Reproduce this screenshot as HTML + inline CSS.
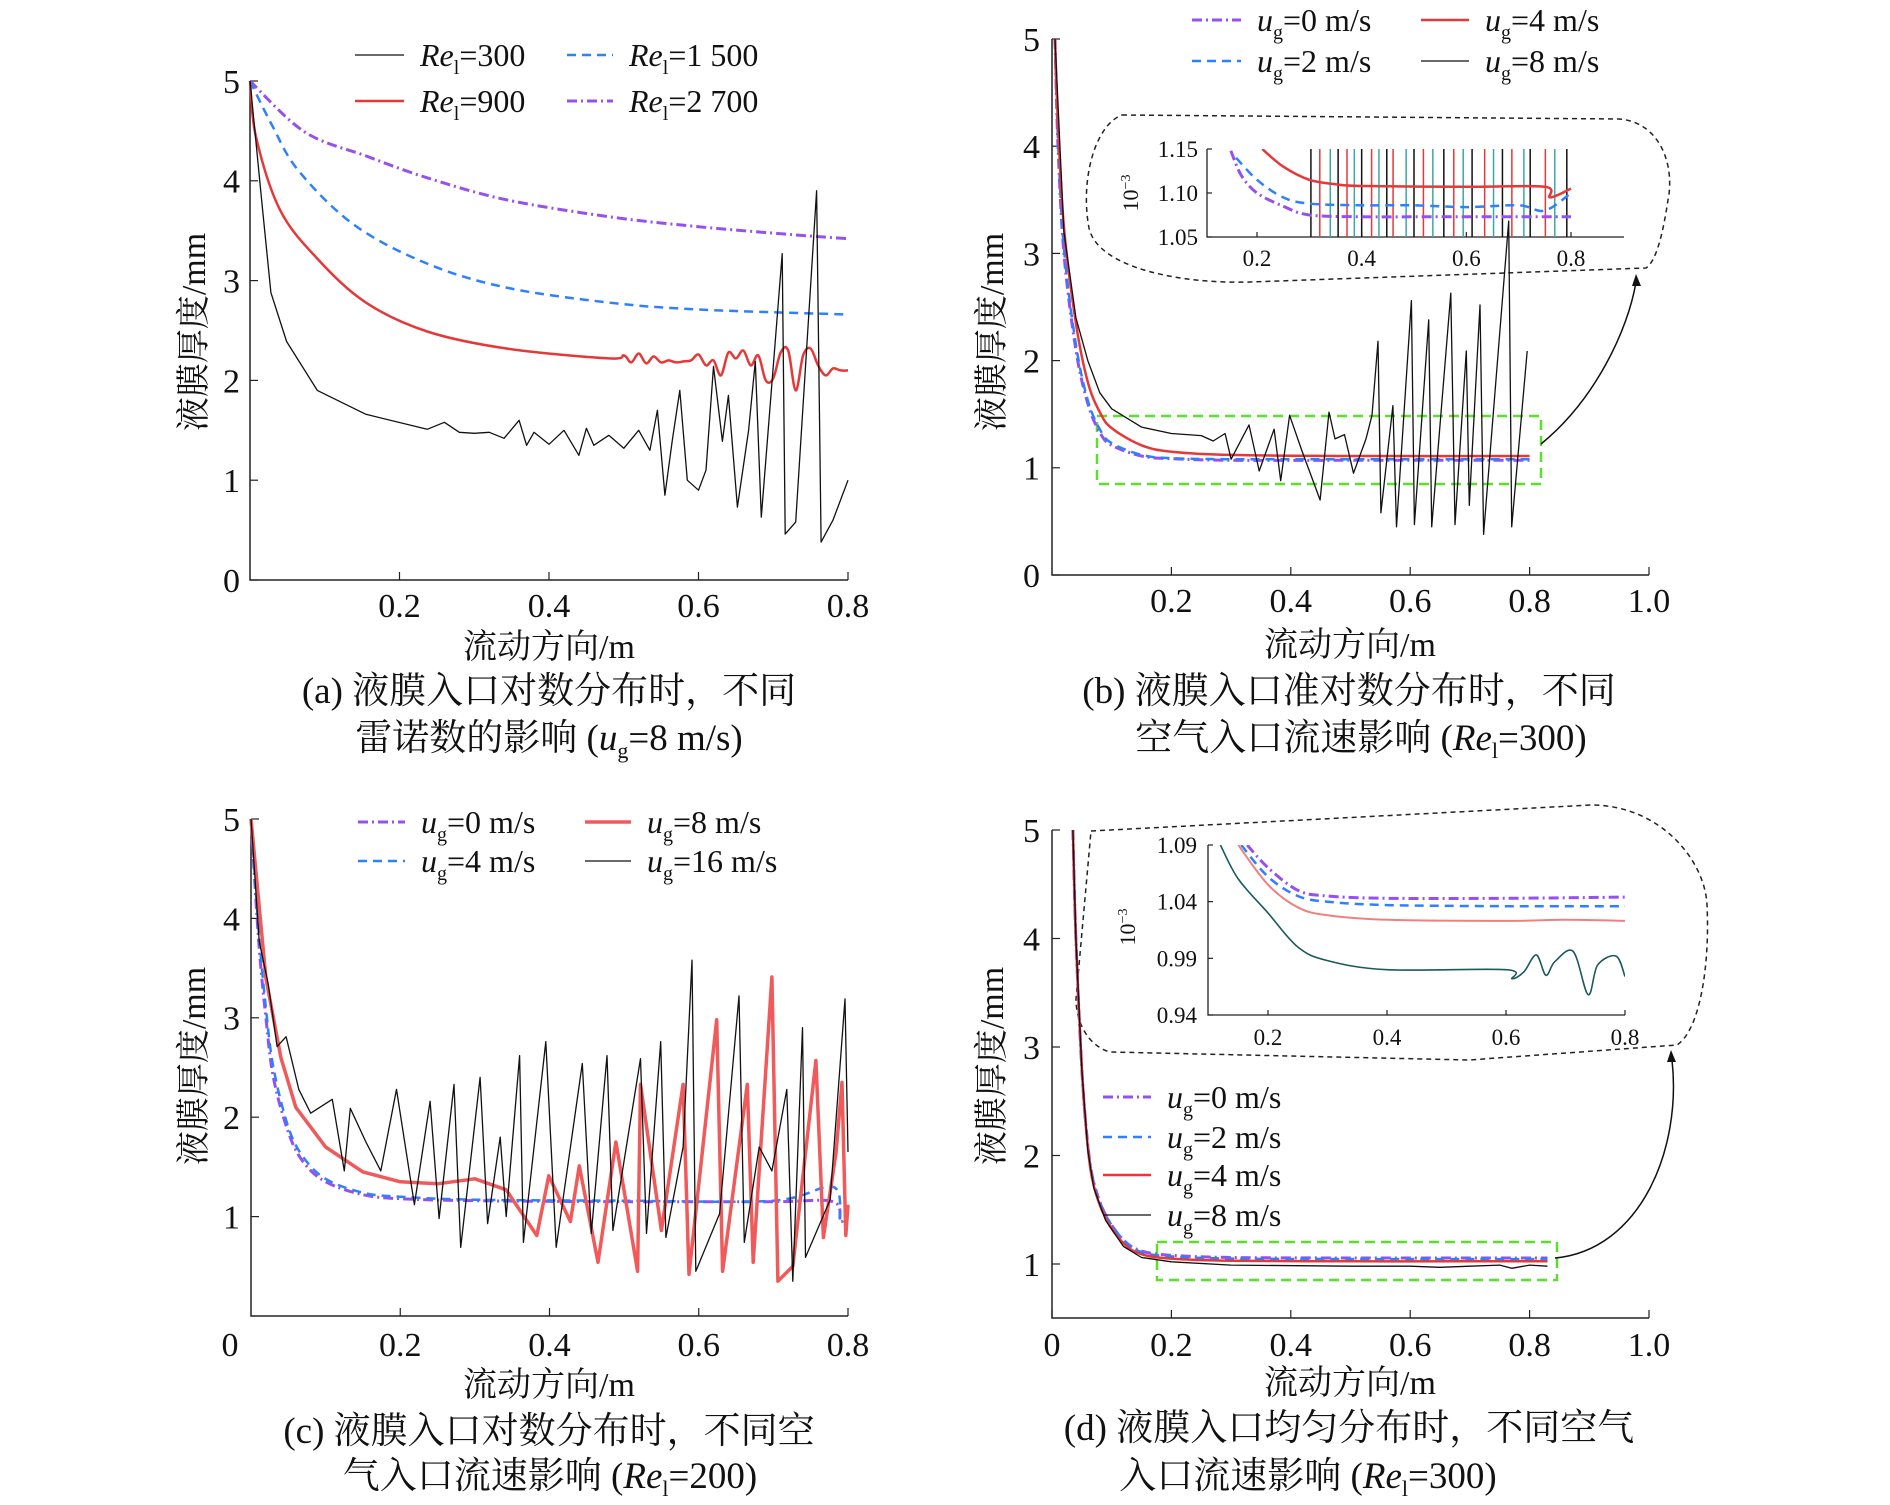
<!DOCTYPE html>
<html><head><meta charset="utf-8"><style>
html,body{margin:0;padding:0;background:#fff}
svg{display:block}
text{font-family:"Liberation Serif","Noto Serif CJK SC",serif;fill:#111}
</style></head><body>
<svg id="fig" width="1890" height="1505" viewBox="0 0 1890 1505" xmlns="http://www.w3.org/2000/svg">
<defs>
<clipPath id="clipBi"><rect x="1207" y="149" width="417" height="88"/></clipPath>
<clipPath id="clipDi"><rect x="1208" y="845" width="417" height="170"/></clipPath>
</defs>
<g id="root"></g>
</svg>
<script>
// ---------- Panel (a) data ----------
const a_x_2700=[0,0.073,0.155,0.237,0.343,0.48,0.6,0.726,0.8];
const a_y_2700=[5.0,4.49,4.25,4.03,3.81,3.64,3.54,3.46,3.42];
const a_x_1500=[0,0.03,0.065,0.139,0.237,0.343,0.48,0.6,0.8];
const a_y_1500=[5,4.55,4.10,3.56,3.17,2.93,2.78,2.71,2.66];
const a_x_900=[0,0.008,0.04,0.09,0.155,0.237,0.343,0.48,0.5,0.51,0.52,0.53,0.54,0.55,0.56,0.57,0.58,0.59,0.6,0.61,0.62,0.63,0.64,0.65,0.66,0.67,0.68,0.69,0.70,0.71,0.72,0.73,0.74,0.75,0.76,0.77,0.78,0.79,0.8];
const a_y_900=[5,4.44,3.71,3.22,2.78,2.49,2.32,2.22,2.25,2.18,2.27,2.17,2.24,2.18,2.2,2.18,2.19,2.2,2.26,2.15,2.2,2.05,2.28,2.22,2.3,2.15,2.25,2.0,2.02,2.28,2.3,1.9,2.25,2.32,2.15,2.05,2.12,2.1,2.1];
const a_x_300=[0,0.016,0.028,0.049,0.09,0.155,0.237,0.26,0.28,0.30,0.32,0.34,0.36,0.37,0.38,0.40,0.42,0.44,0.45,0.46,0.48,0.50,0.52,0.535,0.545,0.555,0.565,0.575,0.585,0.6,0.61,0.62,0.632,0.64,0.652,0.667,0.676,0.684,0.712,0.716,0.73,0.758,0.764,0.78,0.8];
const a_y_300=[5,3.77,2.88,2.39,1.9,1.66,1.51,1.58,1.48,1.47,1.48,1.42,1.6,1.35,1.48,1.36,1.5,1.25,1.52,1.35,1.45,1.32,1.5,1.3,1.7,0.85,1.4,1.9,1.0,0.9,1.1,2.14,1.39,1.85,0.73,1.5,2.19,0.63,3.27,0.46,0.58,3.9,0.38,0.6,1.0];
const a_xticks=[0.2,0.4,0.6,0.8], a_yticks=[0,1,2,3,4,5];
// ---------- Panel (b) data ----------
const b_x_smooth=[0.005,0.01,0.02,0.04,0.06,0.08,0.1,0.15,0.2,0.3,0.5,0.8];
const b_y_0=[5,4.0,3.0,2.1,1.6,1.33,1.21,1.11,1.085,1.07,1.07,1.07];
const b_y_2=[5,4.05,3.05,2.15,1.63,1.36,1.23,1.12,1.09,1.08,1.08,1.08];
const b_y_4=[5,4.2,3.25,2.35,1.8,1.52,1.37,1.21,1.15,1.12,1.11,1.11];
const b_x_8=[0.005,0.02,0.04,0.06,0.08,0.1,0.15,0.2,0.25,0.27,0.29,0.30,0.33,0.347,0.372,0.383,0.398,0.418,0.449,0.464,0.474,0.49,0.505,0.526,0.536,0.546,0.551,0.571,0.577,0.602,0.607,0.631,0.636,0.668,0.675,0.694,0.699,0.717,0.723,0.765,0.77,0.796];
const b_y_8=[5,3.2,2.4,2.0,1.7,1.55,1.38,1.32,1.3,1.25,1.32,1.08,1.40,0.97,1.36,0.88,1.49,1.17,0.70,1.52,1.27,1.31,0.95,1.27,1.49,2.18,0.58,1.58,0.45,2.56,0.47,2.38,0.45,2.63,0.47,2.09,0.65,2.52,0.38,3.3,0.45,2.09];
const b_xticks=[0.2,0.4,0.6,0.8,1.0], b_yticks=[0,1,2,3,4,5];
// inset (b)
const bi_x_0=[0.15,0.17,0.2,0.25,0.3,0.4,0.5,0.6,0.7,0.8];
const bi_y_0=[1.148,1.12,1.1,1.085,1.075,1.073,1.073,1.073,1.073,1.073];
const bi_x_2=[0.16,0.2,0.25,0.3,0.4,0.5,0.6,0.7,0.75,0.8];
const bi_y_2=[1.14,1.115,1.095,1.088,1.086,1.086,1.084,1.086,1.08,1.1];
const bi_x_4=[0.21,0.25,0.3,0.35,0.4,0.6,0.75,0.76,0.8];
const bi_y_4=[1.15,1.13,1.115,1.11,1.108,1.107,1.107,1.095,1.105];
const bi_spikes=[0.303,0.32,0.34,0.355,0.372,0.386,0.40,0.419,0.433,0.448,0.46,0.485,0.50,0.518,0.536,0.557,0.576,0.594,0.611,0.635,0.652,0.669,0.687,0.71,0.722,0.751,0.769,0.792];
const bi_xticks=[0.2,0.4,0.6,0.8], bi_yticks=[1.05,1.10,1.15];
// ---------- Panel (c) data ----------
const c_x_smooth=[0,0.01,0.02,0.03,0.05,0.07,0.1,0.15,0.2,0.3,0.5,0.7,0.78,0.79,0.8];
const c_y_0=[5,3.8,3.0,2.4,1.85,1.55,1.35,1.22,1.18,1.16,1.15,1.15,1.15,0.95,1.05];
const c_y_4=[5,3.9,3.1,2.5,1.9,1.6,1.38,1.24,1.2,1.17,1.16,1.16,1.3,0.95,1.0];
const c_x_8=[0,0.02,0.04,0.06,0.1,0.15,0.2,0.25,0.3,0.342,0.383,0.399,0.428,0.44,0.465,0.489,0.518,0.522,0.55,0.579,0.587,0.624,0.632,0.665,0.673,0.698,0.706,0.726,0.757,0.767,0.784,0.792,0.797,0.8];
const c_y_8=[5,3.4,2.6,2.1,1.7,1.45,1.35,1.33,1.38,1.27,0.81,1.41,0.95,1.51,0.54,1.75,0.45,2.33,0.86,2.33,0.42,2.98,0.45,2.33,0.54,3.41,0.35,0.5,2.57,0.79,1.65,2.35,0.81,1.12];
const c_x_16=[0,0.002,0.011,0.023,0.035,0.047,0.064,0.08,0.109,0.125,0.133,0.154,0.174,0.195,0.219,0.24,0.252,0.272,0.281,0.307,0.317,0.334,0.342,0.36,0.365,0.395,0.409,0.444,0.456,0.477,0.485,0.522,0.53,0.549,0.556,0.579,0.591,0.596,0.628,0.654,0.661,0.681,0.698,0.718,0.726,0.739,0.743,0.776,0.796,0.8];
const c_y_16=[5,4.78,3.77,3.34,2.71,2.81,2.28,2.04,2.18,1.46,2.09,1.75,1.46,2.28,1.12,2.16,0.98,2.33,0.69,2.4,0.93,1.8,1.0,2.62,0.74,2.76,0.69,2.54,0.83,2.62,0.86,2.59,0.83,2.76,0.79,1.7,3.58,0.45,1.03,3.22,0.74,1.7,1.46,2.28,0.35,2.9,0.59,1.17,3.19,1.65];
const c_xticks=[0.2,0.4,0.6,0.8], c_yticks=[1,2,3,4,5];
// ---------- Panel (d) data ----------
const d_x_smooth=[0.035,0.04,0.05,0.06,0.07,0.09,0.12,0.15,0.2,0.3,0.5,0.7,0.83];
const d_y_0=[5,4.0,2.8,2.1,1.75,1.45,1.22,1.12,1.08,1.06,1.055,1.055,1.055];
const d_y_2=[5,4.0,2.8,2.1,1.75,1.45,1.22,1.11,1.07,1.05,1.045,1.045,1.045];
const d_y_4=[5,4.0,2.8,2.08,1.72,1.42,1.19,1.09,1.05,1.03,1.025,1.025,1.025];
const d_x_8=[0.035,0.04,0.05,0.06,0.07,0.09,0.12,0.15,0.2,0.3,0.5,0.6,0.65,0.7,0.75,0.77,0.8,0.83];
const d_y_8=[5,4,2.8,2.05,1.7,1.4,1.16,1.06,1.02,0.99,0.98,0.98,0.97,0.98,0.99,0.96,0.99,0.98];
const d_xticks=[0,0.2,0.4,0.6,0.8,1.0], d_yticks=[1,2,3,4,5];
// inset (d)
const di_x_0=[0.165,0.2,0.25,0.3,0.4,0.6,0.8];
const di_y_0=[1.09,1.07,1.05,1.045,1.043,1.043,1.044];
const di_x_2=[0.155,0.2,0.25,0.3,0.4,0.6,0.8];
const di_y_2=[1.09,1.062,1.045,1.04,1.037,1.036,1.036];
const di_x_4=[0.15,0.2,0.25,0.3,0.4,0.6,0.7,0.8];
const di_y_4=[1.09,1.055,1.035,1.028,1.024,1.023,1.024,1.023];
const di_x_8=[0.12,0.15,0.2,0.25,0.3,0.4,0.6,0.61,0.63,0.651,0.667,0.682,0.713,0.738,0.754,0.785,0.8];
const di_y_8=[1.09,1.06,1.03,1.0,0.988,0.98,0.98,0.972,0.978,0.993,0.975,0.987,0.996,0.958,0.984,0.992,0.974];
const di_xticks=[0.2,0.4,0.6,0.8], di_yticks=[0.94,0.99,1.04,1.09];

const NS="http://www.w3.org/2000/svg";
const root=document.getElementById('root');
function el(tag,attrs,parent){const e=document.createElementNS(NS,tag);for(const k in attrs)e.setAttribute(k,attrs[k]);(parent||root).appendChild(e);return e;}
function lin(d0,d1,r0,r1){return v=>r0+(v-d0)*(r1-r0)/(d1-d0);}
function txt(x,y,s,size,anchor,parent){const t=el('text',{x:x,y:y,'font-size':size,'text-anchor':anchor||'middle'},parent);t.textContent=s;return t;}
const ST={
 purple:{stroke:'#9650f0','stroke-width':3,'stroke-dasharray':'10,4,2,4'},
 blue:{stroke:'#2f80ff','stroke-width':2.5,'stroke-dasharray':'9,6'},
 red:{stroke:'#e63838','stroke-width':2.5},
 redThick:{stroke:'#f05a5a','stroke-width':3.5},
 black:{stroke:'#111','stroke-width':1.3}
};
function plot(xs,ys,sx,sy,style,name,parent,smooth){
 const P=xs.map((x,i)=>[sx(x),sy(ys[i])]);
 let d='M'+P[0][0].toFixed(1)+','+P[0][1].toFixed(1);
 for(let i=1;i<P.length;i++){
  if(smooth){
   const p0=P[Math.max(0,i-2)],p1=P[i-1],p2=P[i],p3=P[Math.min(P.length-1,i+1)];
   const c1=[p1[0]+(p2[0]-p0[0])/6,p1[1]+(p2[1]-p0[1])/6],c2=[p2[0]-(p3[0]-p1[0])/6,p2[1]-(p3[1]-p1[1])/6];
   d+='C'+c1.map(v=>v.toFixed(1)).join(',')+' '+c2.map(v=>v.toFixed(1)).join(',')+' '+p2[0].toFixed(1)+','+p2[1].toFixed(1);
  } else d+='L'+P[i][0].toFixed(1)+','+P[i][1].toFixed(1);
 }
 const p=el('path',Object.assign({d:d,fill:'none','stroke-linejoin':'round'},style),parent);
 
 
 return p;
}
function axes(o){
 const g=el('g',{});
 
 
 el('path',{d:`M${o.x0},${o.yTop}V${o.y0}H${o.x1}`,fill:'none',stroke:'#222','stroke-width':o.w||1.5},g);
 o.xticks.forEach(v=>{const x=o.sx(v);el('line',{x1:x,y1:o.y0,x2:x,y2:o.y0-(o.tl||8),stroke:'#222','stroke-width':1.2},g);
   const t=txt(x,o.xlY,o.fmtX?o.fmtX(v):String(v.toFixed(1)),o.fs,'middle',g);
   });
 o.yticks.forEach(v=>{const y=o.sy(v);el('line',{x1:o.x0,y1:y,x2:o.x0+(o.tl||8),y2:y,stroke:'#222','stroke-width':1.2},g);
   const t=txt(o.ylX,y+o.fs*0.35,o.fmtY?o.fmtY(v):String(v),o.fs,'end',g);
   });
 return g;
}
function ytitle(x,y,name){const t=txt(0,0,'液膜厚度/mm',34,'middle');t.setAttribute('transform',`translate(${x},${y}) rotate(-90)`);
 }
function xtitle(x,y,name){const t=txt(x,y,'流动方向/m',34,'middle');}
function caption(x,y,html,name){const t=el('text',{x:x,y:y,'font-size':37,'text-anchor':'middle'});t.innerHTML=html;
 }
function legend(x1,x2,y,style,label,name){const g=el('g',{});
 
 
 el('line',Object.assign({x1:x1,y1:y,x2:x2,y2:y},style),g);
 const t=el('text',{x:x2+16,y:y+11,'font-size':32},g);t.innerHTML=label;}
const RE=v=>`<tspan font-style="italic">Re</tspan><tspan font-size="20" dy="8">l</tspan><tspan dy="-8">=${v}</tspan>`;
const UG=v=>`<tspan font-style="italic">u</tspan><tspan font-size="20" dy="8">g</tspan><tspan dy="-8">=${v} m/s</tspan>`;

// ===== Panel (a) =====
{const sx=lin(0,0.8,250,848), sy=lin(0,5,580,81);
 axes({name:'panel-a',x0:250,x1:848,y0:580,yTop:81,sx,sy,xticks:a_xticks,yticks:a_yticks,xlY:617,ylX:240,fs:34});
 plot(a_x_2700,a_y_2700,sx,sy,ST.purple,'series-a-re2700',null,true);
 plot(a_x_1500,a_y_1500,sx,sy,ST.blue,'series-a-re1500',null,true);
 plot(a_x_900,a_y_900,sx,sy,ST.red,'series-a-re900',null,true);
 plot(a_x_300,a_y_300,sx,sy,ST.black,'series-a-re300');
 legend(355,404,55,ST.black,RE(300),'legend-a-re300');
 legend(567,613,55,ST.blue,RE('1 500'),'legend-a-re1500');
 legend(355,404,101,ST.red,RE(900),'legend-a-re900');
 legend(567,613,101,ST.purple,RE('2 700'),'legend-a-re2700');
 ytitle(205,332,'y-axis-title-a'); xtitle(549,658,'x-axis-title-a');
 caption(549,703,'(a) 液膜入口对数分布时，不同','caption-a-line1');
 caption(549,750,'雷诺数的影响 (<tspan font-style="italic">u</tspan><tspan font-size="22" dy="8">g</tspan><tspan dy="-8">=8 m/s)</tspan>','caption-a-line2');
}
// ===== Panel (b) =====
{const sx=lin(0,1,1052,1649), sy=lin(0,5,575,39);
 el('path',{d:'M1122,115 L1619,119 C1660,122 1675,165 1668,200 C1662,240 1655,262 1646,268 L1250,282 C1180,284 1098,268 1089,228 C1080,180 1095,125 1122,115 Z',fill:'none',stroke:'#222','stroke-width':1.5,'stroke-dasharray':'5,4',});
 el('rect',{x:1097,y:416,width:444,height:68,fill:'none',stroke:'#5be02a','stroke-width':2.5,'stroke-dasharray':'10,6',});
 el('path',{d:'M1541,444 C1595,400 1628,330 1636,282',fill:'none',stroke:'#111','stroke-width':1.5,});
 el('path',{d:'M1636,274 L1632,286 L1641,286 Z',fill:'#111'});
 axes({name:'panel-b',x0:1052,x1:1649,y0:575,yTop:39,sx,sy,xticks:b_xticks,yticks:b_yticks,xlY:612,ylX:1040,fs:34});
 plot(b_x_smooth,b_y_0,sx,sy,ST.purple,'series-b-ug0',null,true);
 plot(b_x_smooth,b_y_2,sx,sy,ST.blue,'series-b-ug2',null,true);
 plot(b_x_smooth,b_y_4,sx,sy,ST.red,'series-b-ug4',null,true);
 plot(b_x_8,b_y_8,sx,sy,ST.black,'series-b-ug8');
 legend(1192,1241,20,ST.purple,UG(0),'legend-b-ug0');
 legend(1421,1469,20,ST.red,UG(4),'legend-b-ug4');
 legend(1192,1241,61,ST.blue,UG(2),'legend-b-ug2');
 legend(1421,1469,61,ST.black,UG(8),'legend-b-ug8');
 ytitle(1003,332,'y-axis-title-b'); xtitle(1350,656,'x-axis-title-b');
 caption(1349,703,'(b) 液膜入口准对数分布时，不同','caption-b-line1');
 caption(1361,750,'空气入口流速影响 (<tspan font-style="italic">Re</tspan><tspan font-size="22" dy="8">l</tspan><tspan dy="-8">=300)</tspan>','caption-b-line2');
 // inset
 const ix=lin(0.2,0.8,1257,1571), iy=lin(1.05,1.15,237,149);
 axes({name:'inset-b',x0:1207,x1:1624,y0:237,yTop:149,sx:ix,sy:iy,xticks:bi_xticks,yticks:bi_yticks,xlY:266,ylX:1198,fs:23,tl:5,w:1.3,fmtY:v=>v.toFixed(2)});
 const cg=el('g',{'clip-path':'url(#clipBi)'});
 
 
 bi_spikes.forEach((v,i)=>{const l=el('line',{x1:ix(v),x2:ix(v),y1:149,y2:237,stroke:['#111','#e63838','#3aa8a8'][i%3],'stroke-width':1.5},cg);
   
   });
 plot(bi_x_0,bi_y_0,ix,iy,ST.purple,'inset-b-ug0',cg,true);
 plot(bi_x_2,bi_y_2,ix,iy,ST.blue,'inset-b-ug2',cg,true);
 plot(bi_x_4,bi_y_4,ix,iy,ST.red,'inset-b-ug4',cg,true);
 const e=el('text',{'font-size':22,'text-anchor':'middle',transform:'translate(1138,193) rotate(-90)'});e.innerHTML='10<tspan font-size="14" dy="-8">−3</tspan>';
 
}
// ===== Panel (c) =====
{const sx=lin(0,0.8,251,848), sy=lin(0,5,1316,819);
 axes({name:'panel-c',x0:251,x1:848,y0:1316,yTop:819,sx,sy,xticks:c_xticks,yticks:c_yticks,xlY:1356,ylX:240,fs:34});
 const z=txt(230,1356,'0',34,'middle');
 plot(c_x_smooth,c_y_0,sx,sy,ST.purple,'series-c-ug0',null,true);
 plot(c_x_smooth,c_y_4,sx,sy,ST.blue,'series-c-ug4',null,true);
 plot(c_x_8,c_y_8,sx,sy,ST.redThick,'series-c-ug8');
 plot(c_x_16,c_y_16,sx,sy,ST.black,'series-c-ug16');
 legend(358,405,822,ST.purple,UG(0),'legend-c-ug0');
 legend(585,631,822,ST.redThick,UG(8),'legend-c-ug8');
 legend(358,405,861,ST.blue,UG(4),'legend-c-ug4');
 legend(585,631,861,ST.black,UG(16),'legend-c-ug16');
 ytitle(205,1066,'y-axis-title-c'); xtitle(549,1396,'x-axis-title-c');
 caption(549,1443,'(c) 液膜入口对数分布时，不同空','caption-c-line1');
 caption(550,1488,'气入口流速影响 (<tspan font-style="italic">Re</tspan><tspan font-size="22" dy="8">l</tspan><tspan dy="-8">=200)</tspan>','caption-c-line2');
}
// ===== Panel (d) =====
{const sx=lin(0,1,1052,1649), sy=lin(1,5,1264,830);
 el('path',{d:'M1091,831 L1591,805 C1660,805 1705,860 1707,905 C1710,965 1700,1030 1677,1045 L1469,1060 L1110,1052 C1088,1046 1076,1022 1076,999 Z',fill:'none',stroke:'#222','stroke-width':1.5,'stroke-dasharray':'5,4',});
 el('rect',{x:1157,y:1242,width:400,height:38,fill:'none',stroke:'#5be02a','stroke-width':2.5,'stroke-dasharray':'10,6',});
 el('path',{d:'M1555,1258 C1640,1250 1682,1150 1672,1060',fill:'none',stroke:'#111','stroke-width':1.5,});
 el('path',{d:'M1671,1050 L1667,1062 L1676,1062 Z',fill:'#111'});
 axes({name:'panel-d',x0:1052,x1:1649,y0:1318,yTop:830,sx,sy,xticks:d_xticks,yticks:d_yticks,xlY:1356,ylX:1040,fs:34,fmtX:v=>v===0?'0':v.toFixed(1)});
 plot(d_x_smooth,d_y_0,sx,sy,ST.purple,'series-d-ug0',null,true);
 plot(d_x_smooth,d_y_2,sx,sy,ST.blue,'series-d-ug2',null,true);
 plot(d_x_smooth,d_y_4,sx,sy,ST.red,'series-d-ug4',null,true);
 plot(d_x_8,d_y_8,sx,sy,ST.black,'series-d-ug8');
 legend(1103,1151,1097,ST.purple,UG(0),'legend-d-ug0');
 legend(1103,1151,1137,ST.blue,UG(2),'legend-d-ug2');
 legend(1103,1151,1175,ST.red,UG(4),'legend-d-ug4');
 legend(1103,1151,1215,ST.black,UG(8),'legend-d-ug8');
 ytitle(1003,1066,'y-axis-title-d'); xtitle(1350,1394,'x-axis-title-d');
 caption(1349,1440,'(d) 液膜入口均匀分布时，不同空气','caption-d-line1');
 caption(1308,1488,'入口流速影响 (<tspan font-style="italic">Re</tspan><tspan font-size="22" dy="8">l</tspan><tspan dy="-8">=300)</tspan>','caption-d-line2');
 // inset
 const ix=lin(0.2,0.8,1268,1625), iy=lin(0.94,1.09,1015,845);
 axes({name:'inset-d',x0:1208,x1:1625,y0:1015,yTop:845,sx:ix,sy:iy,xticks:di_xticks,yticks:di_yticks,xlY:1045,ylX:1197,fs:23,tl:5,w:1.3,fmtY:v=>v.toFixed(2)});
 const cg=el('g',{'clip-path':'url(#clipDi)'});
 
 
 plot(di_x_0,di_y_0,ix,iy,ST.purple,'inset-d-ug0',cg,true);
 plot(di_x_2,di_y_2,ix,iy,ST.blue,'inset-d-ug2',cg,true);
 plot(di_x_4,di_y_4,ix,iy,{stroke:'#f08080','stroke-width':2},'inset-d-ug4',cg,true);
 plot(di_x_8,di_y_8,ix,iy,{stroke:'#1a5a5a','stroke-width':1.6},'inset-d-ug8',cg,true);
 const e=el('text',{'font-size':22,'text-anchor':'middle',transform:'translate(1135,927) rotate(-90)'});e.innerHTML='10<tspan font-size="14" dy="-8">−3</tspan>';
 
}
</script>
</body></html>
